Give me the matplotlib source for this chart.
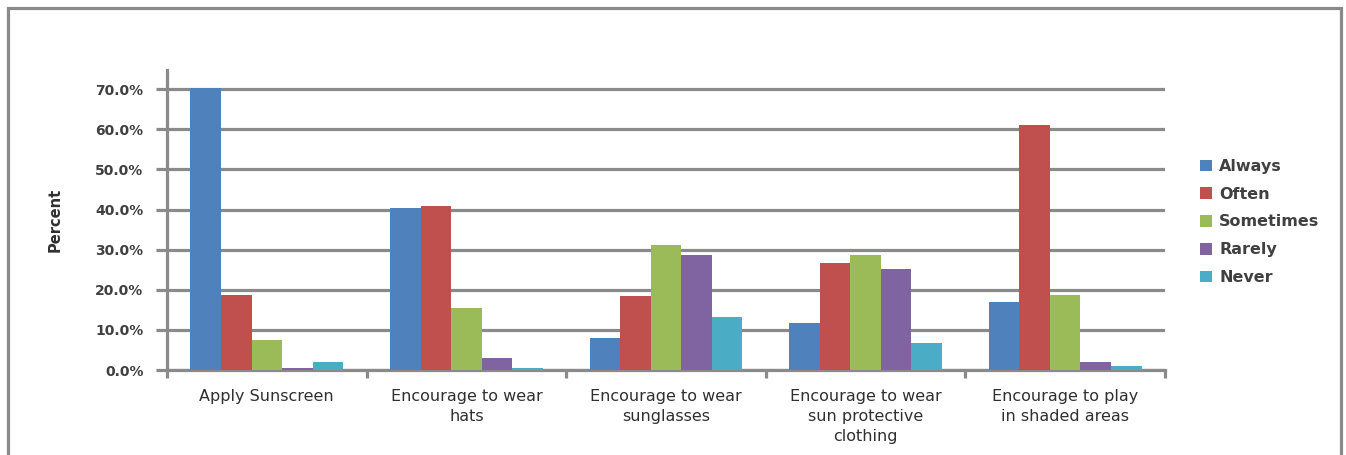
import numpy as np
import matplotlib.pyplot as plt
from matplotlib.patches import Rectangle
from matplotlib.ticker import FixedLocator, PercentFormatter

categories = ['Apply Sunscreen', 'Encourage to wear\nhats', 'Encourage to wear\nsunglasses',
              'Encourage to wear\nsun protective\nclothing', 'Encourage to play\nin shaded areas']
responses = ['Always', 'Often', 'Sometimes', 'Rarely', 'Never']

# percent of respondents per category, one list per response
always = [70.4, 40.4, 8.1, 11.8, 16.9]
often = [18.7, 41.0, 18.5, 26.6, 61.1]
sometimes = [7.6, 15.4, 31.2, 28.7, 18.7]
rarely = [0.6, 3.1, 28.7, 25.2, 2.1]
never = [2.1, 0.6, 13.3, 6.7, 1.1]

series = [always, often, sometimes, rarely, never]
colors = ['#4F81BD', '#C0504D', '#9BBB59', '#8064A2', '#4BACC6']
grey = '#8a8a8a'

fig = plt.figure(figsize=(13.46, 4.55), dpi=100)
ax = fig.add_axes([167/1346, 85/455, (1165-167)/1346, 300/455])

x = np.arange(len(categories))
w = 0.153
for i, (vals, c, name) in enumerate(zip(series, colors, responses)):
    ax.bar(x + (i - 2) * w, vals, w, color=c, label=name, zorder=3)

ax.set_xlim(-0.5, len(categories) - 0.5)
ax.set_ylim(0, 74.8)
ax.set_yticks(np.arange(0, 71, 10))
ax.yaxis.set_major_formatter(PercentFormatter(decimals=1))
ax.grid(axis='y', color=grey, linewidth=2.3, zorder=0)
ax.set_axisbelow(True)

for s in ['top', 'right']:
    ax.spines[s].set_visible(False)
for s in ['left', 'bottom']:
    ax.spines[s].set_color(grey)
    ax.spines[s].set_linewidth(2.3)

ax.set_xticks(x)
ax.set_xticklabels(categories, fontsize=11.5, color='#303030', linespacing=1.4)
ax.xaxis.set_minor_locator(FixedLocator(np.arange(-0.5, len(categories), 1)))
ax.tick_params(axis='x', which='major', length=0, pad=14)
ax.tick_params(axis='x', which='minor', length=6, width=2.3, color=grey)
ax.tick_params(axis='y', length=8, width=2.3, color=grey, pad=9, labelsize=10,
               labelcolor='#404040')
for t in ax.get_yticklabels():
    t.set_fontweight('bold')

fig.text(55/1346, 1 - 220/455, 'Percent', rotation=90, ha='center', va='center',
         fontsize=10.5, fontweight='bold', color='#303030',
         family=['Liberation Sans Narrow', 'DejaVu Sans'])

leg = fig.legend(loc='center left', bbox_to_anchor=(1200/1346, 1 - 222/455),
                 frameon=False, borderpad=0, borderaxespad=0,
                 handlelength=0.75, handleheight=0.75, handletextpad=0.45,
                 labelspacing=0.8, prop={'size': 11.5, 'weight': 'bold'})
for t in leg.get_texts():
    t.set_color('#404040')

# outer frame around the chart area
fig.patches.append(Rectangle((8/1346, -0.1), (1341-8)/1346, 1.1 - 8/455,
                             transform=fig.transFigure, fill=False,
                             edgecolor=grey, linewidth=2.3))

fig.savefig('out.png', dpi=100)
